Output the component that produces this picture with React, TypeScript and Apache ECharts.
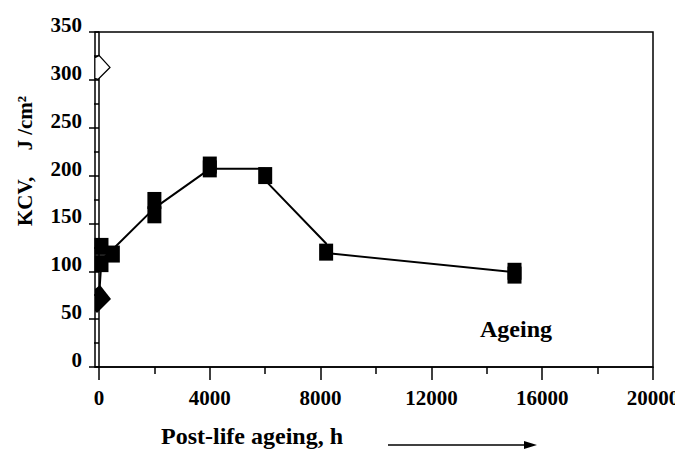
import React, { useEffect, useRef } from "react";
import * as echarts from "echarts";

// ---- data ----
const X_MAJOR = [0, 4000, 8000, 12000, 16000, 20000];
const X_MINOR = [2000, 6000, 10000, 14000, 18000];

// connecting line (trend)
const LINE_X = [0, 90, 500, 2000, 4000, 6000, 6000, 8200, 8200, 15000];
const LINE_Y = [72, 112, 123, 166, 207, 207, 195, 129, 119, 99];

// filled squares (ageing)
const SQ_X = [90, 90, 500, 2000, 2000, 4000, 4000, 6000, 8200, 15000, 15000];
const SQ_Y = [126, 108, 118, 174, 159, 211, 207, 200, 120, 100, 96];

// filled diamond (as-received)
const FD_X = [0];
const FD_Y = [71];

// open diamond
const OD_X = [0];
const OD_Y = [313];

const FONT = "Liberation Serif";

export default function App() {
  const ref = useRef<HTMLDivElement>(null);

  useEffect(() => {
    if (!ref.current) return;
    const chart = echarts.init(ref.current, null, { renderer: "svg" });

    const zip = (xs: number[], ys: number[]) => xs.map((x, i) => [x, ys[i]]);

    const axisText = {
      color: "#000",
      fontFamily: FONT,
      fontWeight: "bold" as const,
      fontSize: 21,
    };

    chart.setOption({
      animation: false,
      backgroundColor: "#fff",
      grid: {
        left: 95,
        top: 32,
        right: 22,
        bottom: 83,
        show: true,
        borderColor: "#000",
        borderWidth: 1.5,
        backgroundColor: "transparent",
        containLabel: false,
        outerBoundsMode: "none",
      },
      xAxis: [
        {
          type: "value",
          min: -144,
          max: 20000,
          position: "bottom",
          axisLine: { show: true, onZero: false, lineStyle: { color: "#000", width: 1.5 } },
          axisTick: {
            show: true,
            customValues: X_MAJOR,
            length: 13,
            lineStyle: { color: "#000", width: 1.5 },
          },
          axisLabel: {
            show: true,
            customValues: X_MAJOR,
            formatter: (v: number) => String(v),
            margin: 23,
            lineHeight: 16,
            ...axisText,
          },
          splitLine: { show: false },
        },
        {
          type: "value",
          min: -144,
          max: 20000,
          position: "bottom",
          axisLine: { show: false },
          axisTick: {
            show: true,
            customValues: X_MINOR,
            length: 7,
            lineStyle: { color: "#000", width: 1.5 },
          },
          axisLabel: { show: false },
          splitLine: { show: false },
        },
      ],
      yAxis: {
        type: "value",
        min: 0,
        max: 350,
        interval: 50,
        axisLine: { show: true, lineStyle: { color: "#000", width: 1.5 } },
        axisTick: { show: true, length: 10, lineStyle: { color: "#000", width: 1.5 } },
        minorTick: { show: true, splitNumber: 2, length: 5, lineStyle: { color: "#000", width: 1.5 } },
        splitLine: { show: false },
        minorSplitLine: { show: false },
        axisLabel: {
          margin: 13,
          verticalAlign: "bottom",
          lineHeight: 14,
          ...axisText,
        },
      },
      series: [
        {
          type: "line",
          data: zip(LINE_X, LINE_Y),
          symbol: "none",
          lineStyle: { color: "#000", width: 2, opacity: 1 },
          z: 2,
        },
        {
          type: "scatter",
          data: zip(SQ_X, SQ_Y),
          symbol: "rect",
          symbolSize: [14, 17],
          itemStyle: { color: "#000", opacity: 1 },
          emphasis: { disabled: true },
          z: 3,
        },
        {
          type: "scatter",
          data: zip(FD_X, FD_Y),
          symbol: "path://M-4,-10 L1,-14 L12,0 L-2,14 L-4,12 Z",
          symbolSize: [16, 28],
          symbolOffset: [4, 0],
          itemStyle: { color: "#000", opacity: 1 },
          emphasis: { disabled: true },
          z: 3,
        },
        {
          type: "scatter",
          data: zip(OD_X, OD_Y),
          symbol: "path://M-4,-10 L0,-12 L11,0 L-1,12 L-4,11 Z",
          symbolSize: [15, 24],
          symbolOffset: [3.5, 0],
          itemStyle: { color: "#fff", borderColor: "#000", borderWidth: 1.2, opacity: 1 },
          emphasis: { disabled: true },
          z: 3,
        },
      ],
      graphic: [
        {
          type: "text",
          x: 25,
          y: 161,
          rotation: Math.PI / 2,
          style: {
            text: "KCV,     J /cm²",
            fill: "#000",
            font: `bold 21px "${FONT}"`,
            textAlign: "center",
            textVerticalAlign: "middle",
          },
        },
        {
          type: "text",
          x: 516,
          y: 329,
          style: {
            text: "Ageing",
            fill: "#000",
            font: `bold 24px "${FONT}"`,
            textAlign: "center",
            textVerticalAlign: "middle",
          },
        },
        {
          type: "text",
          x: 252,
          y: 436,
          style: {
            text: "Post-life ageing, h",
            fill: "#000",
            font: `bold 24px "${FONT}"`,
            textAlign: "center",
            textVerticalAlign: "middle",
          },
        },
        {
          type: "line",
          shape: { x1: 388, y1: 445, x2: 527, y2: 445 },
          style: { stroke: "#000", lineWidth: 1.5 },
        },
        {
          type: "polygon",
          shape: { points: [[524, 441], [537, 445], [524, 449]] },
          style: { fill: "#000" },
        },
      ],
    });

    return () => chart.dispose();
  }, []);

  return (
    <div
      ref={ref}
      style={{ position: "fixed", left: 0, top: 0, width: 675, height: 450 }}
    />
  );
}
